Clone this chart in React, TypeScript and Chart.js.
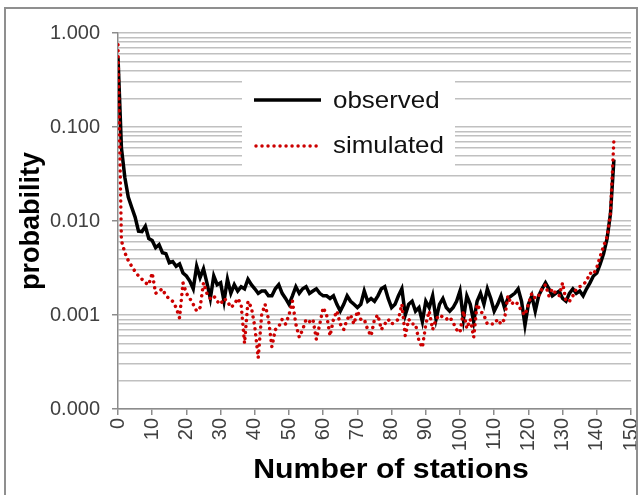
import React, { useEffect, useRef } from 'react';
import { Chart, registerables } from 'chart.js';

Chart.register(...registerables);

const FONT = '"Liberation Sans", Arial, Helvetica, sans-serif';

// x categories: number of stations 0..145
const stations: number[] = Array.from({ length: 146 }, (_, i) => i);

const observed: number[] = [
  0.55, 0.06, 0.029, 0.018, 0.014, 0.011, 0.0078, 0.0077, 0.0088, 0.0065,
  0.0062, 0.0052, 0.0056, 0.0046, 0.0045, 0.0036, 0.0037, 0.0033, 0.0035, 0.0028,
  0.0026, 0.0023, 0.0019, 0.0033, 0.0025, 0.0031, 0.0022, 0.0015, 0.0026, 0.0021,
  0.0022, 0.0014, 0.0024, 0.0017, 0.0021, 0.0018, 0.002, 0.0019, 0.0024, 0.0021,
  0.0019, 0.0017, 0.0018, 0.0018, 0.0016, 0.0016, 0.0019, 0.0021, 0.0017, 0.0015,
  0.0013, 0.0016, 0.002, 0.0017, 0.0019, 0.002, 0.0017, 0.0018, 0.0019, 0.0017,
  0.0016, 0.0016, 0.0015, 0.0016, 0.0013, 0.0011, 0.0013, 0.0016, 0.0014, 0.0013,
  0.0012, 0.0013, 0.0018, 0.0014, 0.0015, 0.0014, 0.0016, 0.0019, 0.002, 0.0015,
  0.0012, 0.0013, 0.0016, 0.0019, 0.001, 0.0013, 0.0014, 0.0011, 0.0012, 0.00085,
  0.0014, 0.0012, 0.0016, 0.0009, 0.0013, 0.0015, 0.0012, 0.0011, 0.0012, 0.0014,
  0.0018, 0.0009, 0.0016, 0.0013, 0.00085, 0.0014, 0.0017, 0.0013, 0.0019, 0.0015,
  0.0011, 0.0013, 0.0016, 0.0012, 0.0015, 0.0016, 0.0017, 0.0019, 0.0014, 0.00078,
  0.0013, 0.0016, 0.0011, 0.0016, 0.0019, 0.0022, 0.0019, 0.0016, 0.0017, 0.0018,
  0.0015, 0.0014, 0.0017, 0.0019, 0.0017, 0.0018, 0.0016, 0.0019, 0.0022, 0.0026,
  0.0028, 0.0035, 0.0045, 0.0065, 0.012, 0.045,
];

const simulated: number[] = [
  0.75, 0.0062, 0.0046, 0.0038, 0.0033, 0.0029, 0.0026, 0.0024, 0.0022, 0.0021,
  0.0028, 0.0017, 0.0018, 0.0019, 0.0016, 0.0015, 0.0014, 0.0012, 0.00093, 0.0022,
  0.0017, 0.0015, 0.0013, 0.0011, 0.0012, 0.0022, 0.0017, 0.0015, 0.0016, 0.0014,
  0.0013, 0.0015, 0.0014, 0.0012, 0.0013, 0.0015, 0.0013, 0.0005, 0.0014, 0.0012,
  0.00075, 0.00035, 0.001, 0.0013, 0.0009, 0.00046, 0.0007, 0.00075, 0.0009, 0.0008,
  0.001, 0.0014, 0.0008, 0.00058, 0.0007, 0.0009, 0.00085, 0.0009, 0.00055, 0.0008,
  0.0012, 0.001, 0.0006, 0.0009, 0.0011, 0.0008, 0.0007, 0.0009, 0.001, 0.0008,
  0.0011, 0.0009, 0.0009, 0.0007, 0.0006, 0.0009, 0.001, 0.0007, 0.0008, 0.0009,
  0.0008, 0.00085, 0.0009, 0.0013, 0.0006, 0.0009, 0.0008, 0.0008, 0.00053, 0.00045,
  0.0008, 0.0011, 0.0007, 0.0009, 0.001, 0.00095, 0.0009, 0.00095, 0.00083, 0.0007,
  0.00065, 0.0011, 0.00072, 0.0009, 0.00058, 0.0013, 0.0011, 0.001, 0.0008, 0.0008,
  0.0008, 0.0009, 0.0008, 0.0009, 0.0016, 0.0013, 0.0014, 0.0013, 0.0011, 0.001,
  0.0013, 0.0017, 0.0015, 0.0016, 0.0019, 0.0021, 0.0016, 0.0019, 0.0017, 0.0016,
  0.0022, 0.0014, 0.0014, 0.0016, 0.0019, 0.002, 0.0021, 0.0023, 0.0028, 0.0027,
  0.0032, 0.0042, 0.0054, 0.0068, 0.012, 0.073,
];

const seriesNames = ['observed', 'simulated'];
const xTitle = 'Number of stations';
const yTitle = 'probability';

// y axis: decades labelled, minor gridlines at 2..9 of each decade
const yDecades = [0.0001, 0.001, 0.01, 0.1, 1];
const minorMultipliers = [1, 2, 3, 4, 5, 6, 7, 8, 9];
const xMin = 0;
const xMax = 150;
const xStep = 10;

const yTickValues: number[] = [];
yDecades.slice(0, -1).forEach((d) => minorMultipliers.forEach((m) => yTickValues.push(m * d)));
yTickValues.push(yDecades[yDecades.length - 1]);

const isDecade = (v: number) => {
  const l = Math.log10(v);
  return Math.abs(l - Math.round(l)) < 1e-9;
};

const drawStretched = (ctx: CanvasRenderingContext2D, text: string, x: number, y: number, sx: number, rot = 0) => {
  ctx.save();
  ctx.translate(x, y);
  if (rot) ctx.rotate(rot);
  ctx.scale(sx, 1);
  ctx.fillText(text, 0, 0);
  ctx.restore();
};

const decorPlugin = {
  id: 'decor',
  beforeDatasetsDraw(chart: any) {
    const ctx: CanvasRenderingContext2D = chart.ctx;
    const ds = chart.data.datasets;
    ctx.save();
    // legend box (hides gridlines behind it)
    ctx.fillStyle = '#ffffff';
    ctx.fillRect(242, 76, 213, 94);
    ctx.lineCap = 'butt';
    ctx.strokeStyle = ds[0].borderColor;
    ctx.lineWidth = ds[0].borderWidth;
    ctx.beginPath();
    ctx.moveTo(254, 100);
    ctx.lineTo(321, 100);
    ctx.stroke();
    ctx.strokeStyle = ds[1].borderColor;
    ctx.lineWidth = ds[1].borderWidth;
    ctx.setLineDash([0.01, 6]);
    ctx.lineCap = 'round';
    ctx.beginPath();
    ctx.moveTo(256, 146);
    ctx.lineTo(321, 146);
    ctx.stroke();
    ctx.setLineDash([]);
    ctx.fillStyle = '#111111';
    ctx.font = `24px ${FONT}`;
    ctx.textBaseline = 'middle';
    ctx.textAlign = 'left';
    drawStretched(ctx, ds[0].label, 333, 101, 1.08);
    drawStretched(ctx, ds[1].label, 333, 146, 1.08);
    ctx.restore();
  },
  afterDraw(chart: any) {
    const ctx: CanvasRenderingContext2D = chart.ctx;
    ctx.save();
    ctx.fillStyle = '#000000';
    ctx.textBaseline = 'middle';
    ctx.textAlign = 'center';
    ctx.font = `bold 28px ${FONT}`;
    drawStretched(ctx, xTitle, 391, 470, 1.08);
    ctx.font = `bold 27px ${FONT}`;
    const a = chart.chartArea;
    drawStretched(ctx, yTitle, 32, (a.top + a.bottom) / 2, 1.0, -Math.PI / 2);
    // outer frame
    ctx.strokeStyle = '#8f8f8f';
    ctx.lineWidth = 2;
    ctx.strokeRect(5, 8, 632, 500);
    ctx.restore();
  },
};

export default function App() {
  const ref = useRef<HTMLCanvasElement>(null);

  useEffect(() => {
    const canvas = ref.current;
    if (!canvas) return;
    const tickFont = { family: FONT, size: 20 };
    const chart = new Chart(canvas, {
      type: 'line',
      data: {
        datasets: [
          {
            label: seriesNames[0],
            data: stations.map((s, i) => ({ x: s, y: observed[i] })),
            borderColor: '#000000',
            backgroundColor: '#000000',
            borderWidth: 3.5,
            pointRadius: 0,
            tension: 0,
            order: 1,
          },
          {
            label: seriesNames[1],
            data: stations.map((s, i) => ({ x: s, y: simulated[i] })),
            borderColor: '#cc0000',
            backgroundColor: '#cc0000',
            borderWidth: 3.5,
            borderDash: [0.01, 6],
            borderCapStyle: 'round',
            pointRadius: 0,
            tension: 0,
            order: 0,
          },
        ],
      },
      options: {
        responsive: false,
        animation: false,
        layout: { padding: { left: 0, top: 33, right: 8, bottom: 0 } },
        plugins: { legend: { display: false }, tooltip: { enabled: false } },
        scales: {
          x: {
            type: 'linear',
            min: xMin,
            max: xMax,
            ticks: {
              stepSize: xStep,
              autoSkip: false,
              maxRotation: 90,
              minRotation: 90,
              padding: 3,
              color: '#404040',
              font: tickFont,
            },
            grid: { drawOnChartArea: false, drawTicks: true, tickLength: 6, color: '#8c8c8c', lineWidth: 1.5 },
            border: { color: '#8c8c8c', width: 1.5 },
            afterFit: (s: any) => {
              s.height = 86;
              s.paddingLeft = 0;
              s.paddingRight = 0;
            },
          },
          y: {
            type: 'logarithmic',
            min: yDecades[0],
            max: yDecades[yDecades.length - 1],
            afterBuildTicks: (s: any) => {
              s.ticks = yTickValues.map((v) => ({ value: v, major: isDecade(v) }));
            },
            ticks: {
              autoSkip: false,
              padding: 12,
              color: '#404040',
              font: tickFont,
              callback: (v: any) => (isDecade(Number(v)) ? Number(v).toFixed(3) : ''),
            },
            grid: {
              color: '#c0c0c0',
              lineWidth: 1.5,
              tickLength: 6,
              tickColor: (c: any) => (c.tick && isDecade(c.tick.value) ? '#8c8c8c' : 'rgba(0,0,0,0)'),
            },
            border: { color: '#8c8c8c', width: 1.5 },
            afterFit: (s: any) => {
              s.width = 118;
              s.paddingTop = 0;
              s.paddingBottom = 0;
            },
          },
        },
      },
      plugins: [decorPlugin],
    } as any);
    return () => chart.destroy();
  }, []);

  return (
    <div style={{ position: 'absolute', left: 0, top: 0, width: 639, height: 495, background: '#fff' }}>
      <canvas ref={ref} width={639} height={495} style={{ display: 'block' }} />
    </div>
  );
}
